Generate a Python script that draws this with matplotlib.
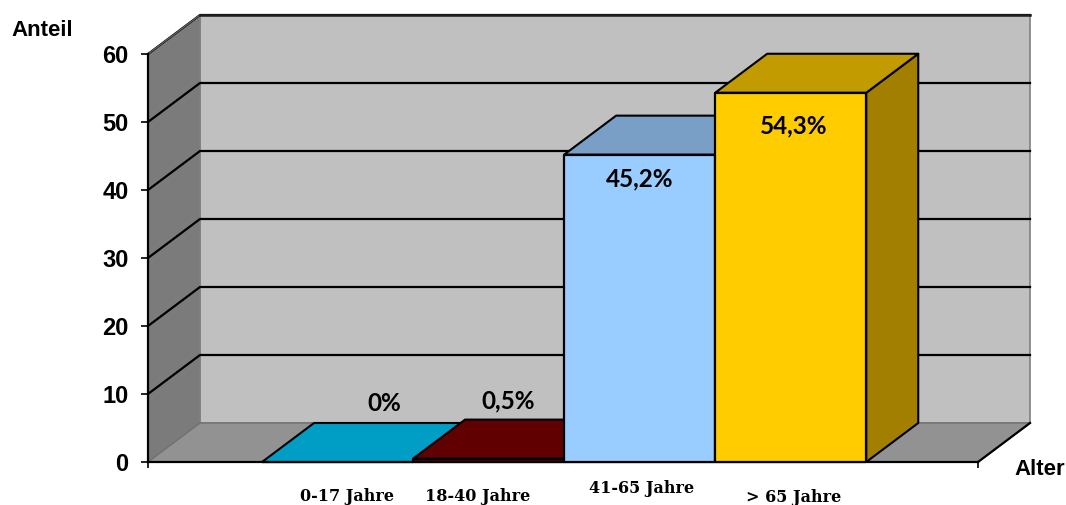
import matplotlib
matplotlib.use('Agg')
import matplotlib.pyplot as plt
from matplotlib.patches import Polygon

# values
categories = ['0-17 Jahre', '18-40 Jahre', '41-65 Jahre', '> 65 Jahre']
values = [0, 0.5, 45.2, 54.3]
value_labels = ['0%', '0,5%', '45,2%', '54,3%']
y_ticks = [0, 10, 20, 30, 40, 50, 60]

# layout
depth_x = 52 / 151
depth_y = 39 / 6.8
bar_w = 1.0
x_min, x_max = -1.255, 4.24
y_min, y_max = 0, 60
cat_x = [0.063, 0.924, 2.01, 3.02]
cat_y = [-5.1, -5.1, -3.95, -5.25]
val_x = [0.308, 1.129, 1.997, 3.017]
val_y = [8.55, 9.0, 41.65, 49.45]

# colours: front, top, side
front_cols = ['#009DC4', '#600000', '#99CCFF', '#FFCC00']
top_cols = ['#009DC4', '#600000', '#7A9FC6', '#C29B00']
side_cols = ['#007A99', '#480000', '#7A9FC6', '#A37F00']

fig = plt.figure(figsize=(10.66, 5.05), dpi=100)
ax = fig.add_axes([148 / 1066, 1 - 462 / 505, 830 / 1066, 408 / 505])
ax.set_xlim(x_min, x_max)
ax.set_ylim(y_min, y_max)
ax.patch.set_visible(False)


def poly(points, color, edge='none', lw=0, z=1):
    ax.add_patch(Polygon(points, closed=True, facecolor=color, edgecolor=edge,
                         linewidth=lw, clip_on=False, zorder=z, joinstyle='round'))


# back wall, side wall and floor
back_l, back_r = x_min + depth_x, x_max + depth_x
poly([(back_l, depth_y), (back_r, depth_y), (back_r, y_max + depth_y), (back_l, y_max + depth_y)],
     '#C0C0C0', '#808080', 1.2)
poly([(x_min, 0), (back_l, depth_y), (back_l, y_max + depth_y), (x_min, y_max)], '#7B7B7B', '#808080', 1)
poly([(x_min, 0), (x_max, 0), (back_r, depth_y), (back_l, depth_y)], '#929292', '#707070', 1)

# gridlines go along the side wall and the back wall
for t in y_ticks[1:]:
    ax.plot([x_min, back_l, back_r], [t, t + depth_y, t + depth_y], color='black', lw=1.6,
            clip_on=False, zorder=1.5, solid_joinstyle='miter')
ax.plot([x_min, back_l], [y_max, y_max + depth_y], color='#606060', lw=1, clip_on=False, zorder=1.6)
ax.plot([back_l, back_r], [y_max + depth_y] * 2, color='#202020', lw=1.8, clip_on=False, zorder=1.6)
ax.plot([x_max, back_r], [0, depth_y], color='black', lw=1.6, clip_on=False, zorder=1.6)

# bars, left to right
for i, v in enumerate(values):
    l = i - bar_w / 2
    r = i + bar_w / 2
    poly([(r, 0), (r + depth_x, depth_y), (r + depth_x, v + depth_y), (r, v)], side_cols[i], 'black', 1.5, 3)
    poly([(l, v), (r, v), (r + depth_x, v + depth_y), (l + depth_x, v + depth_y)], top_cols[i], 'black', 1.5, 3)
    poly([(l, 0), (r, 0), (r, v), (l, v)], front_cols[i], 'black', 1.6, 3)

for x, y, s in zip(val_x, val_y, value_labels):
    ax.text(x, y, s, ha='center', va='center', family='Lato', fontweight='bold',
            fontsize=17.5, color='black', zorder=5)

for x, y, s in zip(cat_x, cat_y, categories):
    ax.text(x, y, s, ha='center', va='center', family='DejaVu Serif', fontweight='bold',
            fontsize=11.5, color='black', clip_on=False)

ax.text(-1.957, 63.45, 'Anteil', ha='center', va='center', family='Liberation Sans',
        fontweight='bold', fontsize=16)
ax.text(4.646, -1.1, 'Alter', ha='center', va='center', family='Liberation Sans',
        fontweight='bold', fontsize=16)

ax.set_yticks(y_ticks)
ax.set_xticks([x_min, x_max])
ax.set_xticklabels(['', ''])
ax.tick_params(axis='y', length=5, width=1.2, pad=9)
ax.tick_params(axis='x', length=4, width=1.2)
for lab in ax.get_yticklabels():
    lab.set_family('Liberation Sans')
    lab.set_fontweight('bold')
    lab.set_fontsize(17)
ax.spines['top'].set_visible(False)
ax.spines['right'].set_visible(False)
ax.spines['left'].set_linewidth(1.6)
ax.spines['bottom'].set_linewidth(1.6)

plt.savefig('out.png', dpi=100)
